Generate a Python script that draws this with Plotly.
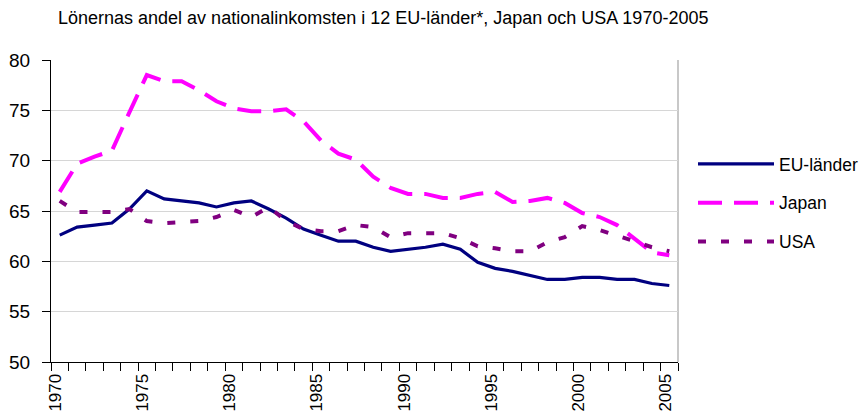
import plotly.graph_objects as go

years = list(range(1970, 2006))
eu = [62.6, 63.4, 63.6, 63.8, 65.2, 67.0, 66.2, 66.0, 65.8, 65.4,
      65.8, 66.0, 65.2, 64.3, 63.2, 62.6, 62.0, 62.0, 61.4, 61.0,
      61.2, 61.4, 61.7, 61.2, 59.9, 59.3, 59.0, 58.6, 58.2, 58.2,
      58.4, 58.4, 58.2, 58.2, 57.8, 57.6]
japan = [66.9, 69.7, 70.4, 71.0, 74.8, 78.5, 77.9, 77.9, 77.0, 75.9,
         75.2, 74.9, 74.9, 75.1, 73.9, 72.0, 70.7, 70.1, 68.4, 67.3,
         66.7, 66.7, 66.3, 66.3, 66.7, 66.9, 65.9, 66.0, 66.3, 65.8,
         64.8, 64.4, 63.6, 62.2, 60.9, 60.6]
usa = [66.0, 64.9, 64.9, 64.9, 65.2, 64.0, 63.8, 63.9, 64.0, 64.4,
       65.1, 64.4, 65.4, 64.0, 63.2, 63.0, 63.0, 63.6, 63.4, 62.4,
       62.8, 62.8, 62.8, 62.3, 61.5, 61.3, 61.0, 61.0, 61.9, 62.4,
       63.5, 63.1, 62.6, 62.0, 61.4, 61.0]
tick_years = [1970, 1975, 1980, 1985, 1990, 1995, 2000, 2005]
y_ticks = [50, 55, 60, 65, 70, 75, 80]
title_text = "Lönernas andel av nationalinkomsten i 12 EU-länder*, Japan och USA 1970-2005"

FONT = "Liberation Sans, Arial, sans-serif"

fig = go.Figure()
fig.add_trace(go.Scatter(x=years, y=eu, name="EU-länder", mode="lines",
                         legendgroup="a",
                         line=dict(color="#000080", width=3.2)))
fig.add_trace(go.Scatter(x=years, y=japan, name="Japan", mode="lines",
                         legendgroup="b",
                         line=dict(color="#FF00FF", width=4, dash="24px,12px")))
fig.add_trace(go.Scatter(x=years, y=usa, name="USA", mode="lines",
                         legendgroup="c",
                         line=dict(color="#800080", width=4, dash="8px,15px")))

fig.update_layout(
    width=861, height=416,
    margin=dict(l=51, r=183, t=60, b=54, autoexpand=False),
    plot_bgcolor="white", paper_bgcolor="white",
    font=dict(family=FONT, color="black", size=18),
    title=dict(text=title_text, x=58/861, xanchor="left", xref="container",
               y=1-18/416, yanchor="middle", yref="container",
               font=dict(family=FONT, size=18, color="black")),
    showlegend=True,
    legend=dict(x=(693-51)/627, xanchor="left", y=1-(146-60)/302, yanchor="top",
                font=dict(family=FONT, size=17.5, color="black"),
                itemwidth=76, tracegroupgap=13, bgcolor="rgba(0,0,0,0)"),
    xaxis=dict(range=[1969.5, 2005.5], tickmode="array", tickvals=tick_years,
               ticktext=[str(y) for y in tick_years], tickangle=-90,
               ticks="", showgrid=False, zeroline=False, automargin=False,
               showline=True, linecolor="black", linewidth=1,
               ticklabelshift=-4, ticklabelstandoff=4,
               tickfont=dict(family=FONT, size=17, color="black"),
               minor=dict(ticks="outside", tick0=1969.5, dtick=1, ticklen=8,
                          tickcolor="black", tickwidth=1, showgrid=False)),
    yaxis=dict(range=[50, 80], tickmode="array", tickvals=y_ticks,
               ticks="outside", ticklen=8, tickcolor="black", tickwidth=1,
               showline=True, linecolor="black", linewidth=1, automargin=False,
               showgrid=True, gridcolor="#d6d6d6", gridwidth=1, zeroline=False,
               ticklabelstandoff=8,
               tickfont=dict(family=FONT, size=19, color="black")),
)
fig.add_shape(type="line", xref="paper", yref="paper", x0=1, x1=1, y0=0, y1=1,
              line=dict(color="#c8c8c8", width=2), layer="below")

fig.write_html("out.html", config={"displayModeBar": False},
               post_script="document.body.style.margin='0px';")
